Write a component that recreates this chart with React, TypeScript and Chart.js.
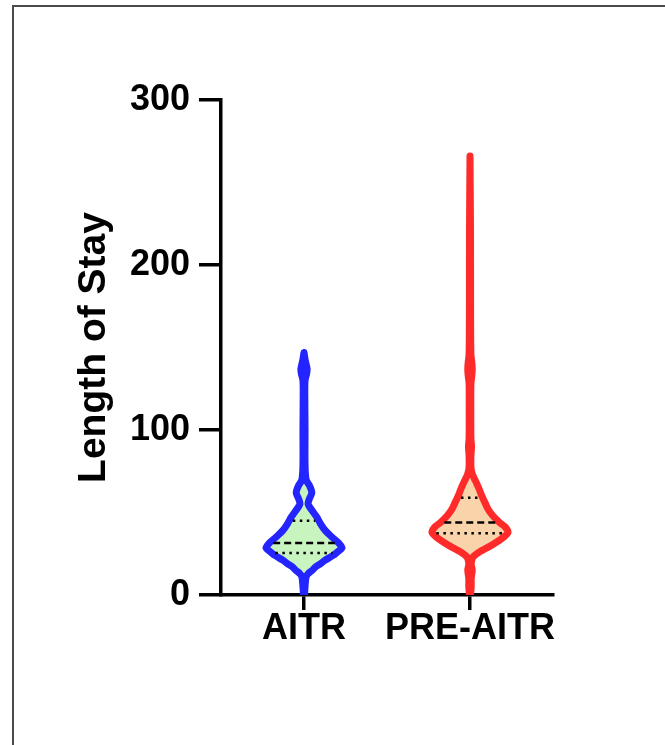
import React, { useEffect, useRef } from 'react';
import { Chart, registerables } from 'chart.js';

Chart.register(...registerables);

// ---- data ----
const categories = ['AITR', 'PRE-AITR'];
const yTicks = [0, 100, 200, 300];
const axisTitle = 'Length of Stay';

// violin profiles: value (y) and relative density (width)
const aitrValues = [0, 5, 11, 13, 15, 17, 19, 21, 24, 26, 28.5, 31, 35, 39, 43, 47, 51, 55, 58, 62, 66, 70, 80, 100, 120, 130, 134, 137, 140, 143, 147];
const aitrDensity = [0.5, 1, 2, 4, 8, 11, 16, 20, 28, 32, 36.5, 34, 27, 20.5, 16, 12.5, 8, 4, 5, 7.5, 5.5, 2, 1, 1, 0.8, 1, 2.5, 3, 2, 1, 0];

const preValues = [0, 5, 10, 15, 19, 23, 26, 29, 32, 35, 38, 41, 44, 47, 50, 53, 57, 61, 65, 69, 73, 77, 84, 90, 95, 110, 128, 133, 137, 141, 146, 170, 220, 266];
const preDensity = [0.5, 1.2, 1.2, 2.2, 1.2, 3, 9, 18, 26, 33, 37.5, 35, 29, 24, 20, 17, 14, 11, 8.5, 5.5, 2.5, 1, 0.9, 1.5, 0.9, 0.8, 0.9, 1.8, 2.2, 1.8, 0.9, 0.6, 0.5, 0];

// summary lines: median, first and third quartile
const aitrMedian = 31.5;
const aitrQuartiles = [25.5, 45];
const preMedian = 44;
const preQuartiles = [37.5, 59];

// ---- styles ----
const FONT = "'Liberation Sans', Arial, Helvetica, sans-serif";
const HALF_WIDTH = 0.229; // category units for the widest point
const INSET = 0.022;

function violinPoints(center: number, values: number[], density: number[]) {
  const maxD = Math.max(...density);
  const right = values.map((v, i) => ({ x: center + (density[i] / maxD) * HALF_WIDTH, y: v }));
  const left = values.map((v, i) => ({ x: center - (density[i] / maxD) * HALF_WIDTH, y: v })).reverse();
  return [...right, ...left];
}

function widthAt(value: number, values: number[], density: number[]) {
  const maxD = Math.max(...density);
  for (let i = 0; i < values.length - 1; i++) {
    if (value >= values[i] && value <= values[i + 1]) {
      const t = (value - values[i]) / (values[i + 1] - values[i]);
      const d = density[i] + t * (density[i + 1] - density[i]);
      return Math.max(0, (d / maxD) * HALF_WIDTH - INSET);
    }
  }
  return 0;
}

function hLine(center: number, value: number, values: number[], density: number[]) {
  const w = widthAt(value, values, density);
  return [{ x: center - w, y: value }, { x: center + w, y: value }];
}

export default function App() {
  const ref = useRef<HTMLCanvasElement | null>(null);

  useEffect(() => {
    if (!ref.current) return;
    const lineBase = { pointRadius: 0, fill: false, borderColor: '#000', borderWidth: 2.5, tension: 0 };
    const chart = new Chart(ref.current, {
      type: 'line',
      data: {
        datasets: [
          { ...lineBase, data: hLine(1, aitrMedian, aitrValues, aitrDensity), borderDash: [7, 4] },
          { ...lineBase, data: hLine(1, aitrQuartiles[0], aitrValues, aitrDensity), borderDash: [2.5, 4.5] },
          { ...lineBase, data: hLine(1, aitrQuartiles[1], aitrValues, aitrDensity), borderDash: [2.5, 4.5] },
          { ...lineBase, data: hLine(2, preMedian, preValues, preDensity), borderDash: [7, 4] },
          { ...lineBase, data: hLine(2, preQuartiles[0], preValues, preDensity), borderDash: [2.5, 4.5] },
          { ...lineBase, data: hLine(2, preQuartiles[1], preValues, preDensity), borderDash: [2.5, 4.5] },
          {
            label: categories[0],
            data: violinPoints(1, aitrValues, aitrDensity),
            borderColor: '#2424ff',
            backgroundColor: '#c8f4c0',
            borderWidth: 7,
            fill: 'shape',
            tension: 0.3,
            pointRadius: 0,
            borderJoinStyle: 'round',
            borderCapStyle: 'round',
          },
          {
            label: categories[1],
            data: violinPoints(2, preValues, preDensity),
            borderColor: '#ff2a2a',
            backgroundColor: '#f9d3aa',
            borderWidth: 7,
            fill: 'shape',
            tension: 0.3,
            pointRadius: 0,
            borderJoinStyle: 'round',
            borderCapStyle: 'round',
          },
        ] as any,
      },
      options: {
        animation: false,
        responsive: false,
        layout: { padding: { left: 0, top: 100, right: 112, bottom: 0 } },
        plugins: { legend: { display: false }, tooltip: { enabled: false } },
        events: [],
        scales: {
          x: {
            type: 'linear',
            min: 0.5,
            max: 2.5,
            afterBuildTicks: (s: any) => {
              s.ticks = categories.map((_, i) => ({ value: i + 1 }));
            },
            afterFit: (s: any) => {
              s.height = 150;
            },
            ticks: {
              callback: (v: any) => categories[Math.round(Number(v)) - 1] ?? '',
              font: { family: FONT, size: 36, weight: 'bold' },
              color: '#000',
              padding: -3,
              autoSkip: false,
              maxRotation: 0,
            },
            grid: { drawOnChartArea: false, drawTicks: true, tickLength: 15, color: '#000', lineWidth: 3.5 },
            border: { color: '#000', width: 3.5 },
          },
          y: {
            type: 'linear',
            min: 0,
            max: 300,
            afterBuildTicks: (s: any) => {
              s.ticks = yTicks.map((v) => ({ value: v }));
            },
            afterFit: (s: any) => {
              s.width = 221;
            },
            ticks: {
              font: { family: FONT, size: 36, weight: 'bold' },
              color: '#000',
              padding: 9,
            },
            grid: { drawOnChartArea: false, drawTicks: true, tickLength: 22, color: '#000', lineWidth: 3.5 },
            border: { color: '#000', width: 3.5 },
            title: {
              display: true,
              text: axisTitle,
              font: { family: FONT, size: 39, weight: 'bold' },
              color: '#000',
              padding: { top: 71, bottom: 0 },
            },
          },
        },
      } as any,
    });
    return () => chart.destroy();
  }, []);

  return (
    <div style={{ position: 'fixed', left: 0, top: 0, width: 665, height: 745, overflow: 'hidden', background: '#fff' }}>
      <div
        style={{
          position: 'absolute',
          left: 12,
          top: 5,
          width: 700,
          height: 800,
          border: '2px solid #4a4a4a',
          boxSizing: 'border-box',
        }}
      />
      <canvas ref={ref} width={665} height={745} style={{ position: 'absolute', left: 0, top: 0 }} />
    </div>
  );
}
